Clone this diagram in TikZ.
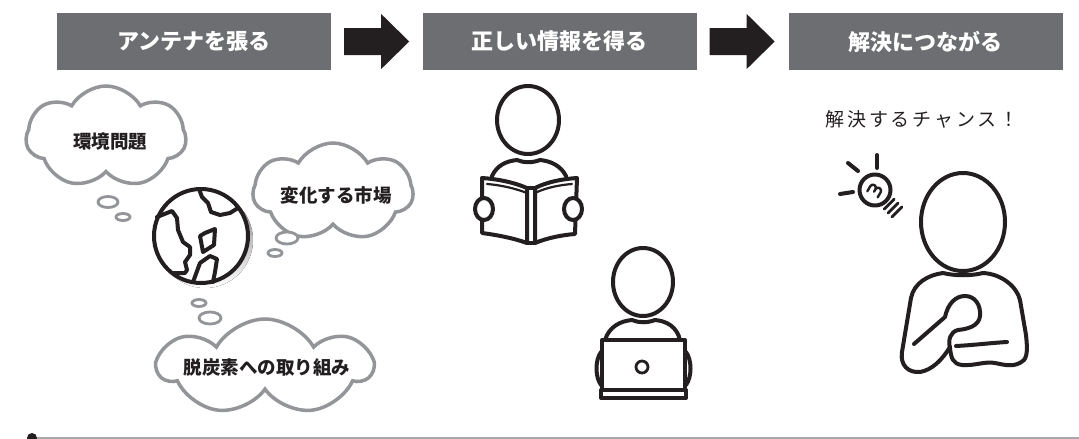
\documentclass[tikz,border=0pt]{standalone}
\usepackage{fontspec}
\setmainfont{Noto Sans CJK JP}
\newfontfamily\heavyjp{Noto Sans CJK JP Black}
\usetikzlibrary{shapes.symbols,calc}
\definecolor{boxgray}{HTML}{6D6E71}
\definecolor{ink}{HTML}{231F20}
\definecolor{cloudgray}{HTML}{939598}
\definecolor{rulegray}{HTML}{A7A9AC}
\definecolor{shade}{HTML}{D6D7D9}

\begin{document}
\begin{tikzpicture}[x=1pt,y=-1pt,
  stagebox/.style={fill=boxgray, text=white, font=\fontsize{22}{22}\selectfont\bfseries,
    minimum width=274pt, minimum height=57pt, inner sep=0pt},
  blockarrow/.style={fill=ink, draw=none},
  thought/.style={cloud, cloud puffs=7, cloud puff arc=120, draw=cloudgray, line width=3.5pt,
    fill=white, inner sep=0pt},
  thoughttext/.style={font=\fontsize{18.5}{18.5}\selectfont\heavyjp, text=ink, inner sep=0pt},
  bubble/.style={draw=cloudgray, line width=2.8pt, fill=white},
  icon/.style={draw=ink, line width=4pt, line cap=round, line join=round},
]
\useasboundingbox (0,0) rectangle (1079,439);

% ---- header: three stages joined by block arrows
\node[stagebox] (s1) at (194,41.5) {アンテナを張る};
\node[stagebox] (s2) at (559.5,41.5) {正しい情報を得る};
\node[stagebox] (s3) at (925.5,41.5) {解決につながる};
% block arrow: shaft 37 long, 27 high; head 28 long, 55 high
\foreach \from/\to in {s1/s2, s2/s3}
  \fill[blockarrow] ($(\from.east)+(13,-13.5)$) -- ++(37,0) -- ++(0,-14) -- ++(28,27.5)
    -- ++(-28,27.5) -- ++(0,-14) -- ++(-37,0) -- cycle;

% ---- thought clouds around the globe
\node[thought, minimum width=160pt, minimum height=102pt] (c1) at (106,137) {};
\node[thoughttext] (t1) at (110,142) {環境問題};
\node[thought, minimum width=160pt, minimum height=98pt] (c2) at (333,192) {};
\node[thoughttext] (t2) at (336,195) {変化する市場};
\node[thought, minimum width=213pt, minimum height=96pt] (c3) at (265,367) {};
\node[thoughttext] (t3) at (267,367) {脱炭素への取り組み};

\draw[bubble] (108,202) ellipse [x radius=10, y radius=5.5];
\draw[bubble] (123,217) ellipse [x radius=7, y radius=3.5];
\draw[bubble] (287,238) ellipse [x radius=11, y radius=6];
\draw[bubble] (275,253) ellipse [x radius=7, y radius=3.5];
\draw[bubble] (199,303) ellipse [x radius=7, y radius=3.5];
\draw[bubble] (210,318) ellipse [x radius=11, y radius=6];

% ---- globe
\fill[shade] (205,240) circle [radius=48];
\draw[icon, fill=white] (201,236) circle [radius=47];
\draw[icon] (157,217) -- (172,211) -- (177,218) -- (178,230) -- (183,242) -- (190,247)
  -- (190,255) -- (185,262) -- (187,270) -- (185,273) -- (173,273);
\draw[icon] (199,189) -- (202,197) -- (208,203) -- (211,212) -- (220,215) -- (230,213) -- (238,208);
\draw[icon] (200,236) -- (205,233) -- (215,229) -- (214,245) -- (203,252) -- cycle;
\draw[icon] (193,282) -- (200,263) -- (210,256) -- (217,259) -- (215,272) -- (213,282);

% ---- reader with a book
\draw[icon] (528,120) ellipse [x radius=31, y radius=34];
\draw[icon] (492,176) .. controls (497,165) and (507,161) .. (517,160)
  .. controls (524,163) and (532,163) .. (540,160)
  .. controls (551,161) and (561,166) .. (566,176);
\draw[icon, fill=white] (482,178) .. controls (497,179) and (513,182) .. (527,188) -- (527,243)
  .. controls (513,238) and (497,235) .. (482,233) -- cycle;
\draw[icon, fill=white] (577,178) .. controls (562,179) and (547,182) .. (535,188) -- (535,243)
  .. controls (547,238) and (562,235) .. (575,234) -- cycle;
\draw[icon] (527,188) -- (535,188);
\draw[icon] (527,243) -- (535,243);
\draw[icon, line width=2.2pt] (487,184) .. controls (500,185) and (514,188) .. (527,193);
\draw[icon, line width=2.2pt] (572,184) .. controls (559,185) and (545,188) .. (535,193);
\draw[icon, fill=white] (484,209) ellipse [x radius=9, y radius=11];
\draw[icon, fill=white] (573,209) ellipse [x radius=9, y radius=11];

% ---- person at a laptop
\draw[icon] (643,282) ellipse [x radius=30, y radius=34];
\draw[icon] (605,340) .. controls (609,327) and (620,321) .. (632,320)
  .. controls (639,323) and (647,323) .. (655,320)
  .. controls (667,321) and (677,327) .. (680,340);
\draw[icon] (601,352) .. controls (595,360) and (595,377) .. (601,385);
\draw[icon] (686,352) .. controls (692,360) and (692,377) .. (686,385);
\draw[icon, fill=white] (602,340) rectangle (685,390);
\draw[icon] (601,390) rectangle (686,398);
\draw[icon, line width=2.8pt] (642,367) circle [radius=6];

% ---- idea: light bulb and person
\node[text=ink, font=\fontsize{19}{19}\selectfont\addfontfeatures{LetterSpace=15}, inner sep=0pt]
  (idea) at (922,119) {解決するチャンス！};
\draw[icon] (877,155) -- (877,168);
\draw[icon] (848,163) -- (858,171);
\draw[icon] (840,194) -- (853,192);
\draw[icon] (875,190) circle [radius=15.5];
\foreach \d in {20,25.5,31}
  \draw[icon, line width=2.8pt] ($(875,190)+(0.707*\d,0.707*\d)+(5,-5)$) -- ($(875,190)+(0.707*\d,0.707*\d)+(-5,5)$);
\begin{scope}[shift={(875,190)}, rotate=-30]
  \draw[icon, line width=2.4pt] (-6,5) -- (-6,-1) arc[start angle=180, end angle=360, radius=3]
    -- (0,2) -- (0,-1) arc[start angle=180, end angle=360, radius=3] -- (6,5);
\end{scope}
\draw[icon] (963,222) ellipse [x radius=42, y radius=49];
\draw[icon] (943,273) .. controls (928,275) and (914,283) .. (911,298) -- (902,352)
  .. controls (900,365) and (908,373) .. (920,372) .. controls (932,370) and (942,360) .. (950,347);
\draw[icon] (943,273) .. controls (955,276) and (971,276) .. (983,273);
\draw[icon] (914,344) -- (945,317) .. controls (948,303) and (956,296) .. (965,296)
  .. controls (975,296) and (981,305) .. (980,316) .. controls (979,326) and (968,329) .. (958,330)
  .. controls (950,332) and (948,340) .. (950,348) .. controls (951,358) and (953,364) .. (962,365)
  .. controls (975,366) and (985,361) .. (995,363) .. controls (1005,365) and (1015,368) .. (1024,360)
  .. controls (1028,355) and (1027,345) .. (1026,335) -- (1020,300)
  .. controls (1017,287) and (1002,274) .. (983,273);
\draw[icon] (956,346) .. controls (975,345) and (990,343) .. (1007,342);

% ---- footer rule
\coordinate (r0) at (32,438);
\coordinate (r1) at (1079,438);
\draw[rulegray, line width=1.2pt] (r0) -- (r1);
\fill[ink] (r0) circle [radius=5];
\end{tikzpicture}
\end{document}
